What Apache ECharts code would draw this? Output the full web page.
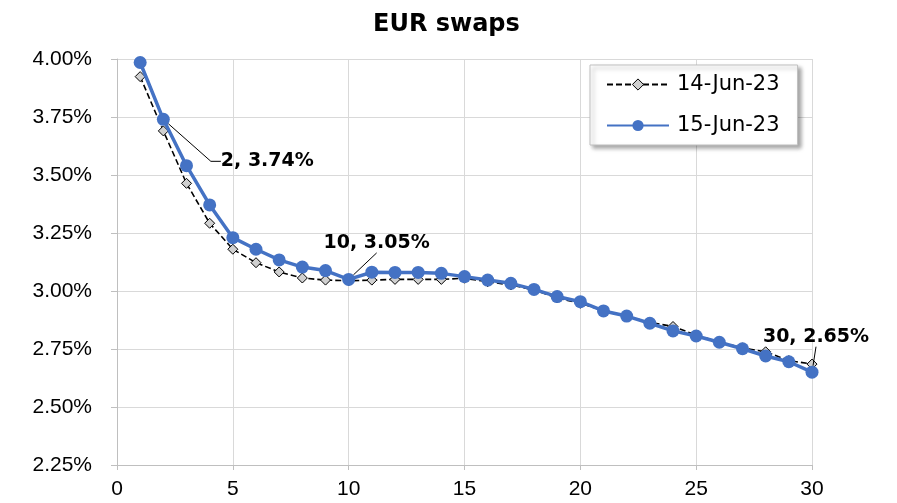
<!DOCTYPE html>
<html><head><meta charset="utf-8">
<script src="https://cdn.jsdelivr.net/npm/echarts@6/dist/echarts.min.js"></script>
<style>html,body{margin:0;padding:0;background:#fff}#c{width:897px;height:503px}</style>
</head><body><div id="c"></div>
<script>
const tenors = [1,2,3,4,5,6,7,8,9,10,11,12,13,14,15,16,17,18,19,20,21,22,23,24,25,26,27,28,29,30];
const jun14 = [3.924,3.69,3.464,3.292,3.18,3.122,3.082,3.056,3.047,3.044,3.047,3.05,3.05,3.05,3.055,3.04,3.026,3.005,2.97,2.947,2.915,2.89,2.865,2.847,2.81,2.78,2.755,2.738,2.70,2.685];
const jun15 = [3.985,3.74,3.54,3.371,3.23,3.18,3.134,3.103,3.088,3.05,3.081,3.08,3.08,3.076,3.062,3.047,3.033,3.007,2.976,2.954,2.914,2.892,2.861,2.828,2.806,2.779,2.751,2.72,2.695,2.65];
const labelledTenors = [2,10,30];
const labelOffsets = {2:[104,42],10:[28,-36],30:[4,-35]};
const leaderTail = {2:10,10:0,30:0};
const FONT = '"DejaVu Sans", "Liberation Sans", Arial, sans-serif';
const AXISFONT = '"Liberation Sans", Arial, sans-serif';

const chart = echarts.init(document.getElementById('c'));
chart.setOption({
  animation:false,
  textStyle:{fontFamily:FONT},
  title:{text:'EUR swaps',left:368,top:8,textStyle:{fontFamily:FONT,fontSize:24,fontWeight:'bold',color:'#000'}},
  grid:{left:117,right:85,top:59,bottom:38},
  legend:{
    orient:'vertical',left:590,top:65,
    data:[{name:'14-Jun-23',itemStyle:{color:'#d0d0d0',borderColor:'#000',borderWidth:1}},{name:'15-Jun-23'}],
    itemWidth:62,itemHeight:14,itemGap:20,
    padding:[9,18,9,16],
    backgroundColor:'#fff',borderColor:'#bfbfbf',borderWidth:1,
    shadowBlur:4,shadowColor:'rgba(0,0,0,0.35)',shadowOffsetX:3,shadowOffsetY:3,
    textStyle:{fontFamily:FONT,fontSize:21,color:'#000',padding:[0,0,0,3]}
  },
  xAxis:{type:'value',min:0,max:30,interval:5,
    axisLine:{show:true,lineStyle:{color:'#bfbfbf'}},
    axisTick:{show:true,length:5,lineStyle:{color:'#bfbfbf'}},
    axisLabel:{fontFamily:AXISFONT,fontSize:21,color:'#000',margin:14},
    splitLine:{show:true,lineStyle:{color:'#d9d9d9',width:1}}},
  yAxis:{type:'value',min:2.25,max:4.0,interval:0.25,
    axisLine:{show:true,lineStyle:{color:'#bfbfbf'}},
    axisTick:{show:true,length:6,lineStyle:{color:'#bfbfbf'}},
    axisLabel:{fontFamily:AXISFONT,fontSize:21,color:'#000',margin:25,formatter:v=>v.toFixed(2)+'%'},
    splitLine:{show:true,lineStyle:{color:'#d9d9d9',width:1}}},
  series:[
    {name:'14-Jun-23',type:'line',
     data:tenors.map((t,i)=>[t,jun14[i]]),
     symbol:'diamond',symbolSize:10,
     lineStyle:{color:'#000',width:1.6,type:[6,3]},
     itemStyle:{color:'#d0d0d0',borderColor:'#000',borderWidth:1},
     z:2},
    {name:'15-Jun-23',type:'line',
     data:tenors.map((t,i)=>{
       const d={value:[t,jun15[i]]};
       if(labelledTenors.includes(t)){
         d.label={show:true};
         d.labelLine={show:true,length2:leaderTail[t]};
       }
       return d;}),
     symbol:'circle',symbolSize:13,
     lineStyle:{color:'#4472C4',width:3.5},
     itemStyle:{color:'#4472C4'},
     label:{show:false,position:'inside',fontFamily:FONT,fontSize:19,fontWeight:'bold',color:'#000',
       formatter:p=>p.value[0]+', '+p.value[1].toFixed(2)+'%'},
     labelLine:{show:false,lineStyle:{color:'#000',width:1}},
     labelLayout:function(p){
       const t = tenors[p.dataIndex];
       const o = labelOffsets[t];
       return o ? {dx:o[0],dy:o[1]} : {};
     },
     z:3}
  ]
});
</script></body></html>
